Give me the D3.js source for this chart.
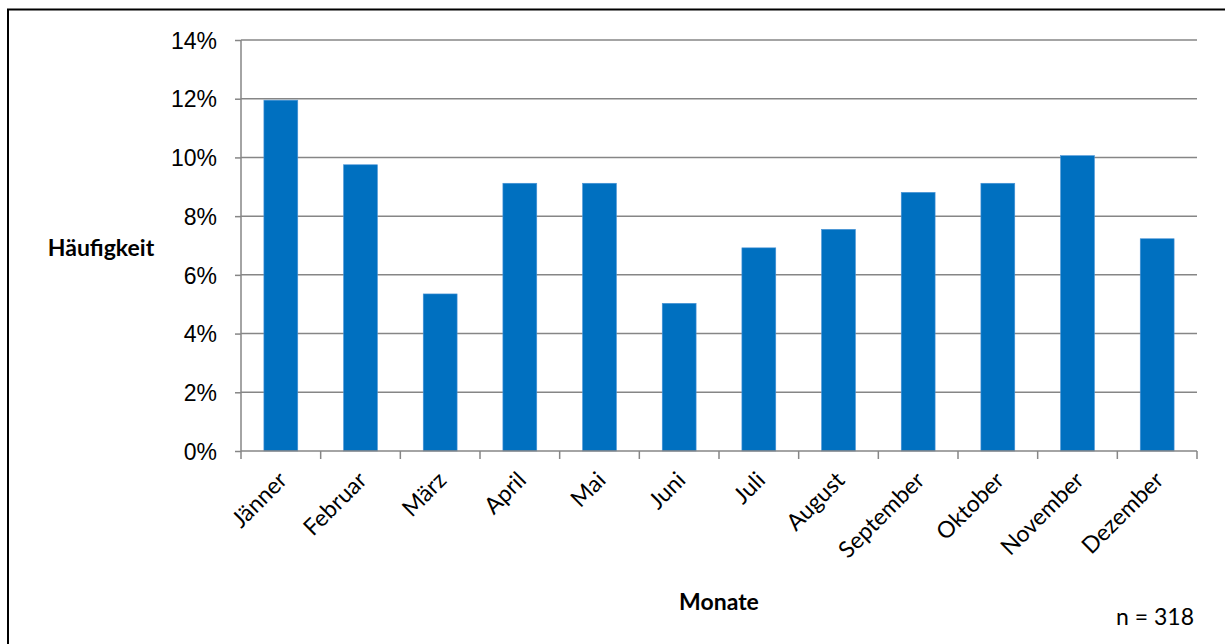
<!DOCTYPE html>
<html lang="de">
<head>
<meta charset="utf-8">
<title>Häufigkeit nach Monaten</title>
<script src="https://cdn.jsdelivr.net/npm/d3@7"></script>
<style>
  html, body { margin: 0; padding: 0; background: #fff; }
  svg { display: block; font-family: Lato, "Open Sans", sans-serif; }
</style>
</head>
<body>
<svg id="chart" width="1225" height="644"></svg>
<script>
// Monthly share of cases (percent), n = 318
const months = ["Jänner", "Februar", "März", "April", "Mai", "Juni",
                "Juli", "August", "September", "Oktober", "November", "Dezember"];
const shares = [11.95, 9.75, 5.35, 9.12, 9.12, 5.03, 6.92, 7.55, 8.81, 9.12, 10.06, 7.23];
const yTicks = [0, 2, 4, 6, 8, 10, 12, 14];
const sampleNote = "n = 318";

const svg = d3.select("#chart");
const plot = { left: 241, right: 1197, top: 40, bottom: 451 };
const gridColor = "#868686";
const fontSize = "23px";

// outer frame of the chart area
svg.append("rect")
  .attr("x", 8).attr("y", 9.5)
  .attr("width", 1240).attr("height", 660)
  .attr("fill", "none").attr("stroke", "#000").attr("stroke-width", 2);

const x = d3.scaleBand()
  .domain(months)
  .range([plot.left, plot.right])
  .paddingInner(0.575)
  .paddingOuter(0.2875);

const y = d3.scaleLinear()
  .domain([0, 14])
  .range([plot.bottom, plot.top]);

// horizontal gridlines
svg.append("g")
  .selectAll("line")
  .data(yTicks.filter(d => d > 0))
  .join("line")
  .attr("x1", plot.left).attr("x2", plot.right)
  .attr("y1", d => y(d)).attr("y2", d => y(d))
  .attr("stroke", gridColor).attr("stroke-width", 1.5);

// bars
svg.append("g")
  .selectAll("rect")
  .data(months.map((m, i) => ({ month: m, value: shares[i] })))
  .join("rect")
  .attr("x", d => x(d.month))
  .attr("y", d => y(d.value))
  .attr("width", x.bandwidth())
  .attr("height", d => y(0) - y(d.value))
  .attr("fill", "#0070C0")
  .attr("stroke", "#4a94d6")
  .attr("stroke-width", 0.6);

// y axis
const yAxis = d3.axisLeft(y)
  .tickValues(yTicks)
  .tickFormat(d => d + "%")
  .tickSize(6)
  .tickPadding(18);

const gy = svg.append("g")
  .attr("transform", `translate(${plot.left},0)`)
  .call(yAxis);
gy.select(".domain").attr("stroke", gridColor).attr("stroke-width", 1.5)
  .attr("d", `M0,${plot.top}V${plot.bottom}`);
gy.selectAll(".tick line").attr("stroke", gridColor).attr("stroke-width", 1.5);
gy.selectAll(".tick text")
  .attr("fill", "#000")
  .style("font-size", fontSize)
  .attr("dy", "0.36em");

// x axis: baseline with tick marks between categories
const step = x.step();
const boundaries = d3.range(months.length + 1).map(i => plot.left + i * step);
const gx = svg.append("g");
gx.append("line")
  .attr("x1", plot.left).attr("x2", plot.right)
  .attr("y1", plot.bottom).attr("y2", plot.bottom)
  .attr("stroke", gridColor).attr("stroke-width", 1.5);
gx.selectAll("line.tick")
  .data(boundaries)
  .join("line")
  .attr("class", "tick")
  .attr("x1", d => d).attr("x2", d => d)
  .attr("y1", plot.bottom).attr("y2", plot.bottom + 8)
  .attr("stroke", gridColor).attr("stroke-width", 1.5);

gx.selectAll("text")
  .data(months)
  .join("text")
  .attr("transform", d => `translate(${x(d) + x.bandwidth() / 2 + 2},${plot.bottom + 25}) rotate(-45)`)
  .attr("text-anchor", "end")
  .attr("dy", "0.35em")
  .style("font-size", fontSize)
  .attr("fill", "#000")
  .text(d => d);

// axis titles
svg.append("text")
  .attr("x", 101).attr("y", 248)
  .attr("text-anchor", "middle")
  .attr("dy", "0.35em")
  .style("font-size", fontSize).style("font-weight", "bold")
  .text("Häufigkeit");

svg.append("text")
  .attr("x", 719).attr("y", 602)
  .attr("text-anchor", "middle")
  .attr("dy", "0.35em")
  .style("font-size", fontSize).style("font-weight", "bold")
  .text("Monate");

svg.append("text")
  .attr("x", 1194).attr("y", 617)
  .attr("text-anchor", "end")
  .attr("dy", "0.35em")
  .style("font-size", fontSize)
  .text(sampleNote);
</script>
</body>
</html>
